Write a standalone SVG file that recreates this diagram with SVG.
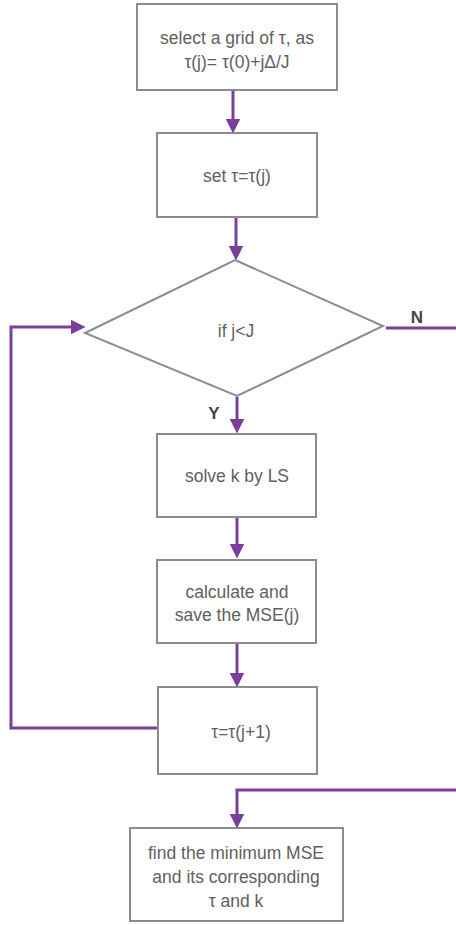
<svg xmlns="http://www.w3.org/2000/svg" width="456" height="925" viewBox="0 0 456 925">
<style>
.box{fill:#fff;stroke:#8a8c8e;stroke-width:2}
.t{font-family:"Liberation Sans",Arial,sans-serif;font-size:17.5px;fill:#5f5f5f;text-anchor:middle}
.lbl{font-family:"Liberation Sans",Arial,sans-serif;font-size:17px;font-weight:bold;fill:#444;text-anchor:middle}
.c{fill:none;stroke:#7a3f9d;stroke-width:3}
</style>
<defs>
<marker id="ah" markerWidth="5" markerHeight="5" refX="2.5" refY="2.5" orient="auto" markerUnits="strokeWidth">
<path d="M0,0 L5,2.5 L0,5 Z" fill="#7a3f9d"/>
</marker>
</defs>
<rect width="456" height="925" fill="#fff"/>
<g id="connectors">
<path class="c" d="M233,91 V126" marker-end="url(#ah)"/>
<path class="c" d="M236,217 V253" marker-end="url(#ah)"/>
<path class="c" d="M237,397 V426" marker-end="url(#ah)"/>
<path class="c" d="M237,517 V551" marker-end="url(#ah)"/>
<path class="c" d="M237,643 V680" marker-end="url(#ah)"/>
<path class="c" d="M158,728 H11 V327 H78" marker-end="url(#ah)"/>
<path class="c" d="M386,328 H456"/>
<path class="c" d="M456,790 H237 V821" marker-end="url(#ah)"/>
<text class="lbl" x="417" y="323">N</text>
<text class="lbl" x="214" y="419">Y</text>
</g>
<g id="n1">
<rect class="box" x="137" y="4" width="200" height="86"/>
<text class="t" x="237" y="44">select a grid of τ, as</text>
<text class="t" x="237" y="68">τ(j)= τ(0)+jΔ/J</text>
</g>
<g id="n2">
<rect class="box" x="157" y="133" width="160" height="84"/>
<text class="t" x="237" y="182">set τ=τ(j)</text>
</g>
<g id="n3">
<path class="box" d="M235,260 L383,326 L237,396 L85,333 Z"/>
<text class="t" x="236" y="337">if j&lt;J</text>
</g>
<g id="n4">
<rect class="box" x="157" y="434" width="159" height="83"/>
<text class="t" x="237" y="482">solve k by LS</text>
</g>
<g id="n5">
<rect class="box" x="157" y="560" width="159" height="83"/>
<text class="t" x="237" y="598">calculate and</text>
<text class="t" x="237" y="621">save the MSE(j)</text>
</g>
<g id="n6">
<rect class="box" x="158" y="687" width="159" height="87"/>
<text class="t" x="241" y="738">τ=τ(j+1)</text>
</g>
<g id="n7">
<rect class="box" x="130" y="828" width="213" height="93"/>
<text class="t" x="236" y="859">find the minimum MSE</text>
<text class="t" x="236" y="883">and its corresponding</text>
<text class="t" x="236" y="907">τ and k</text>
</g>
</svg>
